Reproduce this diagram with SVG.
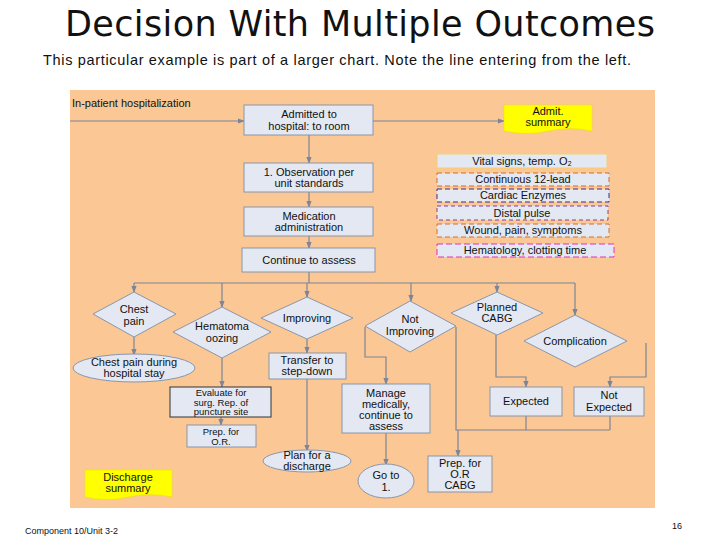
<svg xmlns="http://www.w3.org/2000/svg" width="720" height="540" viewBox="0 0 720 540">
<style>
text{font-family:"Liberation Sans",Arial,sans-serif;fill:#111}
.n{font-size:11px;text-anchor:middle}
.s{font-size:9.5px;text-anchor:middle}
.b{fill:#e3e8f3;stroke:#8a96aa;stroke-width:1}
.bd{fill:#e3e8f3;stroke:#333;stroke-width:1}
.y{fill:#ffff00;stroke:#e8e000;stroke-width:0.5}
.c{fill:none;stroke:#7c8698;stroke-width:1.2}
</style>
<defs>
<marker id="a" viewBox="0 0 8 8" refX="7" refY="4" markerWidth="6" markerHeight="6" orient="auto"><path d="M0,1 L8,4 L0,7 z" fill="#7c8698"/></marker>
</defs>
<rect width="720" height="540" fill="#fff"/>
<text x="360" y="36" font-size="35" text-anchor="middle" textLength="590" style="font-family:'DejaVu Sans',sans-serif">Decision With Multiple Outcomes</text>
<text x="337" y="65" font-size="14.5" text-anchor="middle" textLength="588">This particular example is part of a larger chart.  Note the line entering from the left.</text>
<rect x="70" y="90" width="585" height="418" fill="#fbc794"/>
<text x="72" y="107" font-size="11">In-patient hospitalization</text>

<g id="connectors" class="c">
<path d="M70,121 H244" marker-end="url(#a)"/>
<path d="M373,121 H504" marker-end="url(#a)"/>
<path d="M309,135 V163" marker-end="url(#a)"/>
<path d="M309,192 V207" marker-end="url(#a)"/>
<path d="M309,236 V248" marker-end="url(#a)"/>
<path d="M309,272 V283 M134,283 H575"/>
<path d="M134,283 V292" marker-end="url(#a)"/>
<path d="M222,283 V307" marker-end="url(#a)"/>
<path d="M307,283 V297" marker-end="url(#a)"/>
<path d="M411,283 V301" marker-end="url(#a)"/>
<path d="M497,283 V292" marker-end="url(#a)"/>
<path d="M575,283 V315" marker-end="url(#a)"/>
<path d="M134,337 V355" marker-end="url(#a)"/>
<path d="M222,358 V387" marker-end="url(#a)"/>
<path d="M221,417 V425" marker-end="url(#a)"/>
<path d="M307,339 V353" marker-end="url(#a)"/>
<path d="M307,379 V451" marker-end="url(#a)"/>
<path d="M365,327 V357 H386 V384" marker-end="url(#a)"/>
<path d="M386,433 V465" marker-end="url(#a)"/>
<path d="M456,327 V430 H610 M526,416 V430 M610,416 V430 M458,430 V456" marker-end="url(#a)"/>
<path d="M496,335 V377 H526 V387" marker-end="url(#a)"/>
<path d="M646,343 V377 H610 V387" marker-end="url(#a)"/>
</g>

<g id="admitted"><rect class="b" x="244" y="105" width="129" height="30"/><text class="n" x="309" y="118">Admitted to</text><text class="n" x="309" y="130">hospital: to room</text></g>
<g id="admit-summary"><path class="y" d="M504,105 H592 V131 Q570,126 548,131 T504,131 Z"/><text class="n" x="548" y="115">Admit.</text><text class="n" x="548" y="126">summary</text></g>
<g id="observation"><rect class="b" x="244" y="163" width="129" height="29"/><text class="n" x="309" y="176">1. Observation per</text><text class="n" x="309" y="187">unit standards</text></g>
<g id="medication"><rect class="b" x="244" y="207" width="129" height="29"/><text class="n" x="309" y="220">Medication</text><text class="n" x="309" y="231">administration</text></g>
<g id="continue"><rect class="b" x="242" y="248" width="133" height="24"/><text class="n" x="309" y="264">Continue to assess</text></g>

<g id="vital"><rect x="437" y="154" width="170" height="14" fill="#e3e8f3" stroke="#f5d070"/><text class="n" x="522" y="165">Vital signs, temp. O₂</text></g>
<g id="cont12"><rect x="437" y="173" width="172" height="13" fill="#e3e8f3" stroke="#d26a2a" stroke-dasharray="5,3"/><text class="n" x="523" y="183">Continuous 12-lead</text></g>
<g id="cardiac"><rect x="437" y="189" width="172" height="13" fill="#e3e8f3" stroke="#3030a0" stroke-dasharray="5,3"/><text class="n" x="523" y="199">Cardiac Enzymes</text></g>
<g id="distal"><rect x="437" y="206" width="171" height="14" fill="#e3e8f3" stroke="#8040a0" stroke-dasharray="4,3"/><text class="n" x="522" y="217">Distal pulse</text></g>
<g id="wound"><rect x="437" y="224" width="172" height="13" fill="#e3e8f3" stroke="#d07030" stroke-dasharray="5,3"/><text class="n" x="523" y="234">Wound, pain, symptoms</text></g>
<g id="hematology"><rect x="437" y="244" width="177" height="13" fill="#e3e8f3" stroke="#e030c0" stroke-dasharray="6,3"/><text class="n" x="525" y="254">Hematology, clotting time</text></g>

<g id="chest-pain"><path class="b" d="M134,292 L176,314 L134,337 L93,314 Z"/><text class="n" x="134" y="313">Chest</text><text class="n" x="134" y="325">pain</text></g>
<g id="hematoma"><path class="b" d="M222,307 L271,332 L222,358 L173,332 Z"/><text class="n" x="222" y="330">Hematoma</text><text class="n" x="222" y="342">oozing</text></g>
<g id="improving"><path class="b" d="M307,297 L353,318 L307,339 L261,318 Z"/><text class="n" x="307" y="322">Improving</text></g>
<g id="not-improving"><path class="b" d="M410,301 L456,326 L410,352 L365,326 Z"/><text class="n" x="410" y="323">Not</text><text class="n" x="410" y="335">Improving</text></g>
<g id="planned-cabg"><path class="b" d="M497,292 L543,313 L497,335 L451,313 Z"/><text class="n" x="497" y="311">Planned</text><text class="n" x="497" y="322">CABG</text></g>
<g id="complication"><path class="b" d="M575,315 L627,341 L575,367 L524,341 Z"/><text class="n" x="575" y="345">Complication</text></g>

<g id="chest-pain-stay"><ellipse class="b" cx="134" cy="368" rx="61" ry="14"/><text class="n" x="134" y="366">Chest pain during</text><text class="n" x="134" y="377">hospital stay</text></g>
<g id="evaluate"><rect class="bd" x="170" y="387" width="101" height="30"/><text class="s" x="221" y="396">Evaluate for</text><text class="s" x="221" y="405.5">surg. Rep. of</text><text class="s" x="221" y="415">puncture site</text></g>
<g id="prep-or"><rect class="b" x="187" y="425" width="69" height="22"/><text class="s" x="221" y="435">Prep. for</text><text class="s" x="221" y="445">O.R.</text></g>
<g id="transfer"><rect class="b" x="269" y="353" width="77" height="26"/><text class="n" x="307" y="364">Transfer to</text><text class="n" x="307" y="375">step-down</text></g>
<g id="plan-discharge"><ellipse class="b" cx="307" cy="461" rx="44" ry="11"/><text class="n" x="307" y="459">Plan for a</text><text class="n" x="307" y="470">discharge</text></g>
<g id="manage"><rect class="b" x="342" y="384" width="88" height="49"/><text class="n" x="386" y="397">Manage</text><text class="n" x="386" y="408">medically,</text><text class="n" x="386" y="419">continue to</text><text class="n" x="386" y="430">assess</text></g>
<g id="goto1"><ellipse class="b" cx="386" cy="481" rx="28" ry="17"/><text class="n" x="386" y="479">Go to</text><text class="n" x="386" y="491">1.</text></g>
<g id="expected"><rect class="b" x="490" y="387" width="72" height="29"/><text class="n" x="526" y="405">Expected</text></g>
<g id="not-expected"><rect class="b" x="574" y="387" width="70" height="29"/><text class="n" x="609" y="399">Not</text><text class="n" x="609" y="411">Expected</text></g>
<g id="prep-or-cabg"><rect class="b" x="428" y="456" width="64" height="36"/><text class="n" x="460" y="467">Prep. for</text><text class="n" x="460" y="478">O.R</text><text class="n" x="460" y="489">CABG</text></g>
<g id="discharge-summary"><path class="y" d="M85,470 H172 V497 Q150,492 128,497 T85,497 Z"/><text class="n" x="128" y="481">Discharge</text><text class="n" x="128" y="492">summary</text></g>

<text x="25" y="534" font-size="9">Component 10/Unit 3-2</text>
<text x="677" y="529" font-size="9" text-anchor="middle">16</text>
</svg>
